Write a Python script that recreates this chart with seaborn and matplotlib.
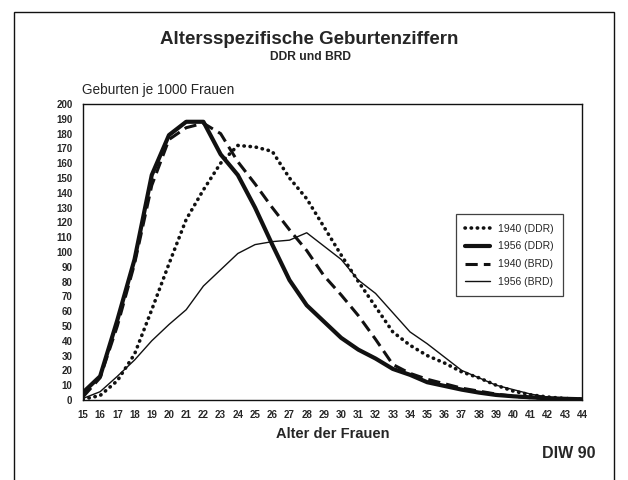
import matplotlib.pyplot as plt
import numpy as np
import pandas as pd
import seaborn as sns
from matplotlib.patches import Rectangle

# Altersspezifische Geburtenziffern, DDR und BRD (DIW 1990)

alter = list(range(15, 45))

ddr_1940 = [0.5, 3, 13, 31, 61, 92, 122, 142, 160, 172, 171, 168, 150, 136, 117,
            98, 80, 63, 46, 37, 30, 25, 19, 15, 10, 6, 3.5, 2, 1, 0.5]
ddr_1956 = [5, 16, 54, 95, 152, 179, 188, 188, 166, 152, 130, 105, 81, 64, 53,
            42, 34, 28, 21, 17, 12, 9.5, 7, 5, 3.4, 2.5, 1.8, 1.2, 0.8, 0.5]
brd_1940 = [2, 15, 50, 92, 145, 176, 184, 187, 180, 161, 146, 130, 115, 101, 84,
            71, 57, 41, 24, 18, 14, 11, 8, 6, 4, 2.5, 1.5, 1, 0.6, 0.3]
brd_1956 = [1, 5.6, 16, 27, 40, 51, 61, 77, 88, 99, 105, 107, 108, 113, 104,
            95, 81, 72, 59, 46, 38, 29, 20, 15, 10, 7, 4, 2, 1, 0.5]

serien = ["1940 (DDR)", "1956 (DDR)", "1940 (BRD)", "1956 (BRD)"]
werte = [ddr_1940, ddr_1956, brd_1940, brd_1956]

df = pd.DataFrame({"Alter": alter})
for name, w in zip(serien, werte):
    df[name] = w
df = df.melt(id_vars="Alter", var_name="Serie", value_name="Geburten")

sns.set_theme(style="white")
plt.rcParams["font.family"] = ["Liberation Sans", "DejaVu Sans"]

fig = plt.figure(figsize=(6.28, 4.8), dpi=100)
ax = fig.add_axes([0.132, 0.1667, 0.795, 0.6166])

stile = {
    "1940 (DDR)": dict(linestyle=(0, (0.1, 1.6)), linewidth=2.6, dash_capstyle="round"),
    "1956 (DDR)": dict(linestyle="-", linewidth=3.0),
    "1940 (BRD)": dict(linestyle=(0, (4, 2)), linewidth=2.2),
    "1956 (BRD)": dict(linestyle="-", linewidth=1.0),
}

for name in serien:
    sub = df[df["Serie"] == name]
    sns.lineplot(data=sub, x="Alter", y="Geburten", ax=ax, color="#111111",
                 label=name, **stile[name])

ax.set_xlim(15, 44)
ax.set_ylim(0, 200)
ax.set_xticks(alter)
ax.set_yticks(np.arange(0, 201, 10))
ax.set_xlabel("Alter der Frauen", fontsize=10.5, fontweight="bold", labelpad=5)
ax.set_ylabel("")
ax.tick_params(axis="both", direction="out", length=4, width=0.9, color="#111111",
               labelsize=7, pad=3.5)
for lab in ax.get_xticklabels() + ax.get_yticklabels():
    lab.set_fontweight("bold")
for sp in ax.spines.values():
    sp.set_color("#111111")
    sp.set_linewidth(1.0)

leg = ax.legend(loc="upper left", bbox_to_anchor=(0.736, 0.645), fontsize=7.5,
                frameon=True, fancybox=False, edgecolor="#111111",
                handlelength=2.4, labelspacing=0.75, borderpad=0.9)
leg.get_frame().set_linewidth(0.9)

fig.text(0.493, 0.917, "Altersspezifische Geburtenziffern", ha="center", va="center",
         fontsize=13.5, fontweight="bold")
fig.text(0.495, 0.881, "DDR und BRD", ha="center", va="center", fontsize=8.7,
         fontweight="bold")
fig.text(0.131, 0.812, "Geburten je 1000 Frauen", ha="left", va="center",
         fontsize=9.8)
fig.text(0.948, 0.056, "DIW 90", ha="right", va="center", fontsize=11.5,
         fontweight="bold")

# Rahmen um die Grafik
fig.patches.append(Rectangle((0.022, -0.02), 0.956, 0.995, transform=fig.transFigure,
                             fill=False, edgecolor="#111111", linewidth=1.0))

fig.savefig("out.png", dpi=100)
